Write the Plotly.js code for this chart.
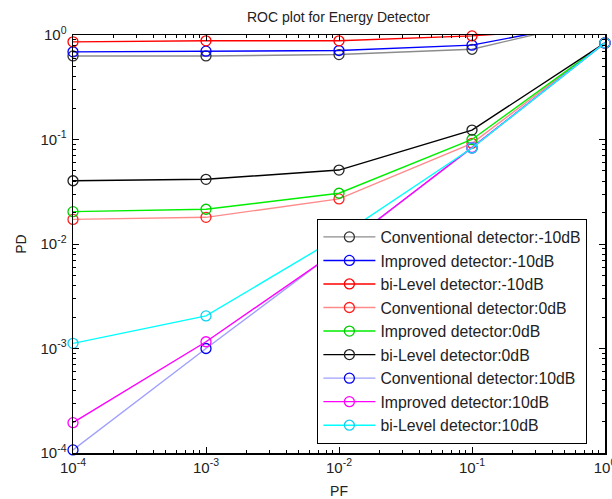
<!DOCTYPE html>
<html>
<head>
<meta charset="utf-8">
<script src="https://cdn.plot.ly/plotly-3.0.1.min.js"></script>
<style>html,body{margin:0;padding:0;background:#fff;}#chart{width:612px;height:499px;}</style>
</head>
<body>
<div id="chart"></div>
<script>
// Data
const PF = [1e-4, 1e-3, 1e-2, 1e-1, 1];

const convM10 = [0.63, 0.63, 0.65, 0.73, 1.45];
const impM10  = [0.69, 0.70, 0.71, 0.80, 1.40];
const biM10   = [0.86, 0.88, 0.88, 0.98, 1.20];

const conv0 = [0.0172, 0.018, 0.027, 0.092, 0.84];
const imp0  = [0.0204, 0.0215, 0.0306, 0.100, 0.84];
const bi0   = [0.0403, 0.0416, 0.051, 0.123, 0.84];

const conv10 = [0.000107, 0.0010, 0.0090, 0.083, 0.84];
const imp10  = [0.000195, 0.00116, 0.0088, 0.084, 0.84];
const bi10   = [0.00112, 0.00205, 0.0117, 0.083, 0.84];

const tickVals = [1e-4, 1e-3, 1e-2, 1e-1, 1];
const tickText = ["10<sup>-4</sup>", "10<sup>-3</sup>", "10<sup>-2</sup>", "10<sup>-1</sup>", "10<sup>0</sup>"];

const names = [
  "Conventional detector:-10dB",
  "Improved detector:-10dB",
  "bi-Level detector:-10dB",
  "Conventional detector:0dB",
  "Improved detector:0dB",
  "bi-Level detector:0dB",
  "Conventional detector:10dB",
  "Improved detector:10dB",
  "bi-Level detector:10dB"
];
const series = [convM10, impM10, biM10, conv0, imp0, bi0, conv10, imp10, bi10];
const lineColors   = ["#8c8c8c", "#0000ff", "#ff0000", "#ff8a8a", "#00ee00", "#000000", "#a0a0ff", "#ff00ff", "#00ffff"];
const markerColors = ["#333333", "#0000ff", "#ff0000", "#ff2020", "#00cc00", "#222222", "#0000ee", "#ff00ff", "#10d0f0"];

const traces = series.map((ys, i) => ({
  x: PF, y: ys, name: names[i], type: "scatter", mode: "lines+markers",
  cliponaxis: false,
  line: {color: lineColors[i], width: 1.4},
  marker: {symbol: "circle-open", size: 10, color: markerColors[i], line: {width: 1.3, color: markerColors[i]}}
}));

const minorVals = [];
for (let k = -4; k < 0; k++) for (let m = 2; m <= 9; m++) minorVals.push(m * Math.pow(10, k));

const axisCommon = {
  type: "log", range: [-4, 0], tickmode: "array", tickvals: tickVals, ticktext: tickText,
  showgrid: false, zeroline: false,
  showline: true, linecolor: "#000", linewidth: 1.5, mirror: "ticks",
  ticks: "inside", ticklen: 6, tickwidth: 1, tickcolor: "#000",
  ticklabeloverflow: "allow",
  tickfont: {family: "Liberation Sans, Arial, sans-serif", size: 15, color: "#222"},
  minor: {tickmode: "array", tickvals: minorVals, ticks: "inside", ticklen: 3, tickcolor: "#000", tickwidth: 1},
  automargin: false
};

const layout = {
  width: 612, height: 499,
  margin: {l: 73, r: 7, t: 35, b: 46},
  paper_bgcolor: "#fff", plot_bgcolor: "#fff",
  font: {family: "Liberation Sans, Arial, sans-serif", color: "#222"},
  title: {text: "ROC plot for Energy Detector", x: 0.553, xanchor: "center", y: 0.965, yanchor: "middle",
          font: {size: 14, color: "#222", family: "Liberation Sans, Arial, sans-serif"}},
  xaxis: Object.assign({}, axisCommon, {title: {text: "PF", standoff: 12, font: {size: 14, color: "#222"}}}),
  yaxis: Object.assign({}, axisCommon, {ticklabelstandoff: 2, title: {text: "PD", standoff: 10, font: {size: 14, color: "#222"}}}),
  showlegend: true,
  legend: {
    x: 0.459, y: 0.56, xanchor: "left", yanchor: "top",
    bgcolor: "#fff", bordercolor: "#000", borderwidth: 1.2,
    font: {family: "Liberation Sans, Arial, sans-serif", size: 15.8, color: "#222"},
    traceorder: "normal", itemwidth: 52
  }
};

Plotly.newPlot("chart", traces, layout, {displayModeBar: false, staticPlot: true});
</script>
</body>
</html>
